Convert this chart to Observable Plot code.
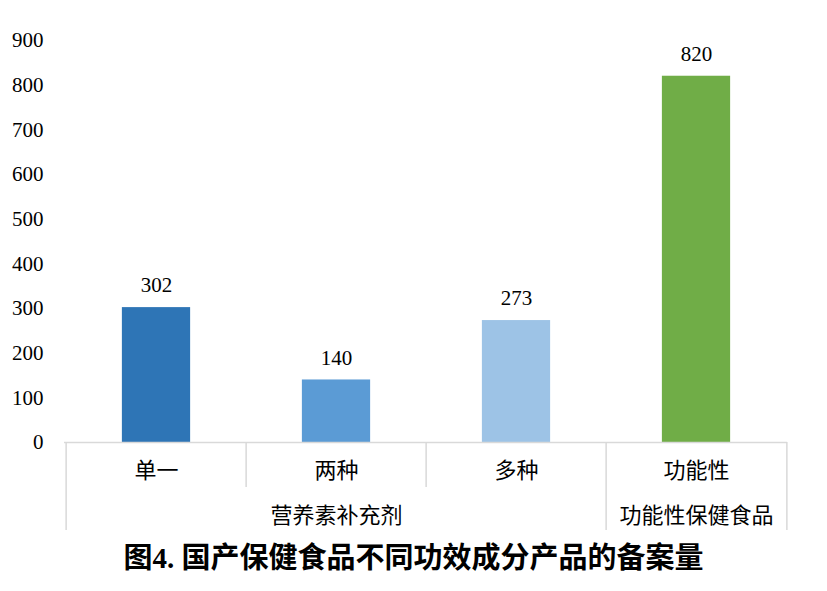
<!DOCTYPE html>
<html>
<head>
<meta charset="utf-8">
<script src="https://cdn.jsdelivr.net/npm/d3@7"></script>
<script src="https://cdn.jsdelivr.net/npm/@observablehq/plot@0.6"></script>
<style>
  body { margin: 0; background: #fff; }
  #chart { width: 827px; }
  #chart svg, #chart svg text { font-family: "Liberation Serif", "Noto Sans CJK SC", serif !important; }
  #title { width: 827px; text-align: center; font-family: "Liberation Serif", "Noto Sans CJK SC", serif; font-weight: bold; font-size: 29px; line-height: 46px; color: #000; }
</style>
</head>
<body>
<div id="chart"></div>
<div id="title">图4. 国产保健食品不同功效成分产品的备案量</div>
<script>
const categories = ["单一", "两种", "多种", "功能性"];
const values = [302, 140, 273, 820];
const colors = ["#2E75B6", "#5B9BD5", "#9DC3E6", "#70AD47"];
const groups = ["营养素补充剂", "功能性保健食品"];
const groupCenters = ["两种", "功能性"];
const yTicks = [0, 100, 200, 300, 400, 500, 600, 700, 800, 900];

const data = categories.map((c, i) => ({cat: c, value: values[i], color: colors[i]}));

const W = 827, H = 535, mL = 64, mR = 40, mT = 40, mB = 93;
const bw = (W - mL - mR) / categories.length;
const barInset = (bw - 69) / 2;

// dividers: left edge of each category plus right edge of last
const dividers = [
  {cat: "单一", side: -1, depth: 88},
  {cat: "两种", side: -1, depth: 45},
  {cat: "多种", side: -1, depth: 45},
  {cat: "功能性", side: -1, depth: 88},
  {cat: "功能性", side: 1, depth: 88}
];

const font = "'Liberation Serif', 'Noto Sans CJK SC', serif";
const gridColor = "#d9d9d9";

const chart = Plot.plot({
  width: W, height: H,
  marginLeft: mL, marginRight: mR, marginTop: mT, marginBottom: mB,
  style: {fontFamily: font, fontSize: "21px", color: "#000", background: "#fff"},
  x: {domain: categories, padding: 0, axis: null},
  y: {domain: [0, 900], ticks: yTicks},
  marks: [
    Plot.axisY({ticks: yTicks, tickSize: 0, tickPadding: 21, fontSize: 21, label: null, fill: "#000"}),
    Plot.barY(data, {x: "cat", y: "value", fill: "color", insetLeft: barInset, insetRight: barInset}),
    Plot.text(data, {x: "cat", y: "value", text: d => String(d.value), dy: -22, fontSize: 21, fill: "#000"}),
    Plot.ruleY([0], {stroke: gridColor, strokeWidth: 1.5}),
    ...dividers.map(d => Plot.ruleX([d], {x: "cat", y1: 0, y2: 0, insetBottom: -d.depth, dx: d.side * bw / 2, stroke: gridColor, strokeWidth: 1.5})),
    Plot.text(categories, {x: d => d, y: 0, dy: 28, fontSize: 22, fill: "#000"}),
    Plot.text(groups, {x: (d, i) => groupCenters[i], y: 0, dy: 73, fontSize: 22, fill: "#000"})
  ]
});
document.getElementById("chart").appendChild(chart);
</script>
</body>
</html>
